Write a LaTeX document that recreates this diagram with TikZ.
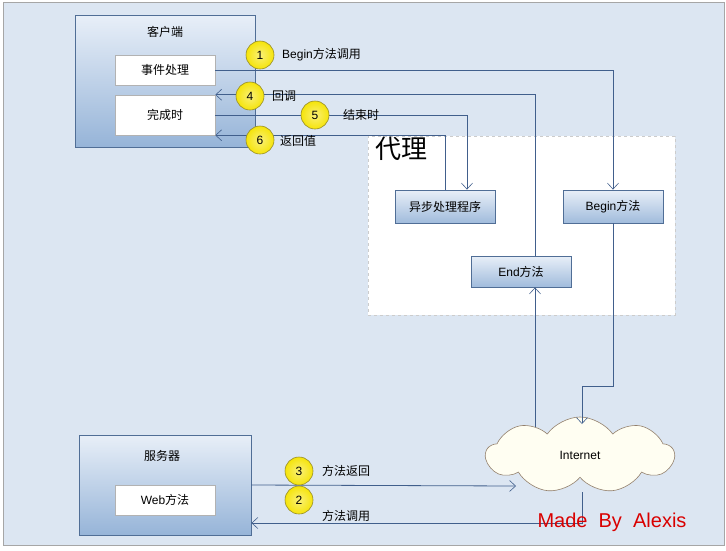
\documentclass[tikz,border=0pt]{standalone}
\usepackage{fontspec}
\setmainfont{Liberation Sans}
\newfontfamily\cjk{Noto Sans CJK SC}
\newfontfamily\cjkl{Noto Sans CJK SC}
\usetikzlibrary{arrows.meta,shapes.symbols,calc}
\definecolor{bgc}{RGB}{220,230,242}
\definecolor{lnc}{RGB}{65,95,140}
\definecolor{bxb}{RGB}{80,110,150}
\definecolor{gtop}{RGB}{232,239,248}
\definecolor{gbot}{RGB}{150,180,216}
\definecolor{ylw}{RGB}{245,228,10}
\definecolor{ylb}{RGB}{150,140,40}
\tikzset{
  arr/.style={draw=lnc, line width=0.8pt, -{Straight Barb[length=6pt,width=11pt,line width=0.6pt]}},
  ln/.style={draw=lnc, line width=0.8pt},
  bigbox/.style={draw=bxb, line width=0.8pt, top color=gtop, bottom color=gbot, minimum width=#1},
  whbox/.style={draw=gray!60, fill=white, line width=0.5pt, minimum width=100pt, font=\fontsize{12}{14}\selectfont},
  gbox/.style={draw=bxb, line width=0.8pt, top color=gtop, bottom color=gbot!90, minimum width=100pt, font=\fontsize{12}{14}\selectfont},
  num/.style={circle, draw=ylb, line width=0.6pt, inner color=ylw!55!white, outer color=ylw, minimum size=28pt, inner sep=0pt, font=\fontsize{12}{14}\selectfont},
  lbl/.style={anchor=west, inner sep=0pt, font=\fontsize{12}{14}\selectfont},
}
\begin{document}
\begin{tikzpicture}[x=1pt,y=-1pt]
\useasboundingbox (0,0) rectangle (726,550);
\fill[white] (0,0) rectangle (726,550);
\draw[fill=bgc, draw=gray!70, line width=0.8pt] (3,2) rectangle (724,545);

% proxy region
\node[draw=gray!40, dashed, fill=white, minimum width=307pt, minimum height=179pt, inner sep=0pt] (proxy) at (521.5,225.5) {};
\node[anchor=north west, inner sep=0pt, font=\fontsize{26}{28}\selectfont\cjkl] (proxyt) at (375,137) {代理};

% client
\node[bigbox=180pt, minimum height=132pt] (client) at (165,81) {};
\node[font=\fontsize{12}{14}\selectfont\cjk] (clientt) at (165,32) {客户端};
\node[whbox, minimum height=30pt] (evt) at (165,70) {\cjk 事件处理};
\node[whbox, minimum height=40pt] (done) at (165,115) {\cjk 完成时};

% server
\node[bigbox=172pt, minimum height=100pt] (server) at (165,485) {};
\node[font=\fontsize{12}{14}\selectfont\cjk] (servert) at (162,456) {服务器};
\node[whbox, minimum height=30pt] (web) at (165,500) {Web{\cjk 方法}};

% proxy boxes
\node[gbox, minimum height=33pt] (begin) at (613,206.5) {Begin{\cjk 方法}};
\node[gbox, minimum height=33pt] (async) at (445,206.5) {\cjk 异步处理程序};
\node[gbox, minimum height=31pt] (endm) at (521,271.5) {End{\cjk 方法}};

% cloud
\node[cloud, cloud puffs=9, cloud puff arc=110, aspect=2.4, draw=gray!70!brown, fill=white!95!yellow, line width=0.6pt, minimum width=188pt, minimum height=76pt, inner sep=0pt, font=\fontsize{12}{14}\selectfont] (cloud) at (580,455) {Internet};

\coordinate (ct) at (582,424);
\coordinate (cb) at (535,427);
\coordinate (cl) at (516,486);
\coordinate (cbot) at (582,492);
\coordinate (k1) at (582,386);

% connectors
\draw[arr] (evt.east) -| (begin.north);
\draw[arr] ([xshift=14pt]endm.north) |- (done.north east);
\draw[arr] (done.east) -| ([xshift=22pt]async.north);
\draw[arr] (async.north) |- (done.south east);
\draw[ln] (begin.south) |- (k1);
\draw[arr] (k1) -- (ct);
\draw[arr] (cb) -- ([xshift=14pt]endm.south);
\draw[arr] (server.east) -- (cl);
\draw[arr] (cbot) |- ($(server.east)+(0,38)$);

% numbered circles
\node[num] (n1) at (260,55) {1};
\node[num] (n4) at (250,96) {4};
\node[num] (n5) at (315,115) {5};
\node[num] (n6) at (260,140) {6};
\node[num] (n3) at (299,471) {3};
\node[num] (n2) at (299,500) {2};

\node[lbl] (l1) at (282,55) {Begin{\cjk 方法调用}};
\node[lbl] (l4) at (272,96) {\cjk 回调};
\node[lbl] (l5) at (343,115) {\cjk 结束时};
\node[lbl] (l6) at (280,141) {\cjk 返回值};
\node[lbl] (l3) at (322,471) {\cjk 方法返回};
\node[lbl] (l2) at (322,516) {\cjk 方法调用};

\node[text=red!85!black, font=\fontsize{20}{22}\selectfont, inner sep=0pt] (made) at (612,522) {Made\ \ By\ \ Alexis};
\end{tikzpicture}
\end{document}
